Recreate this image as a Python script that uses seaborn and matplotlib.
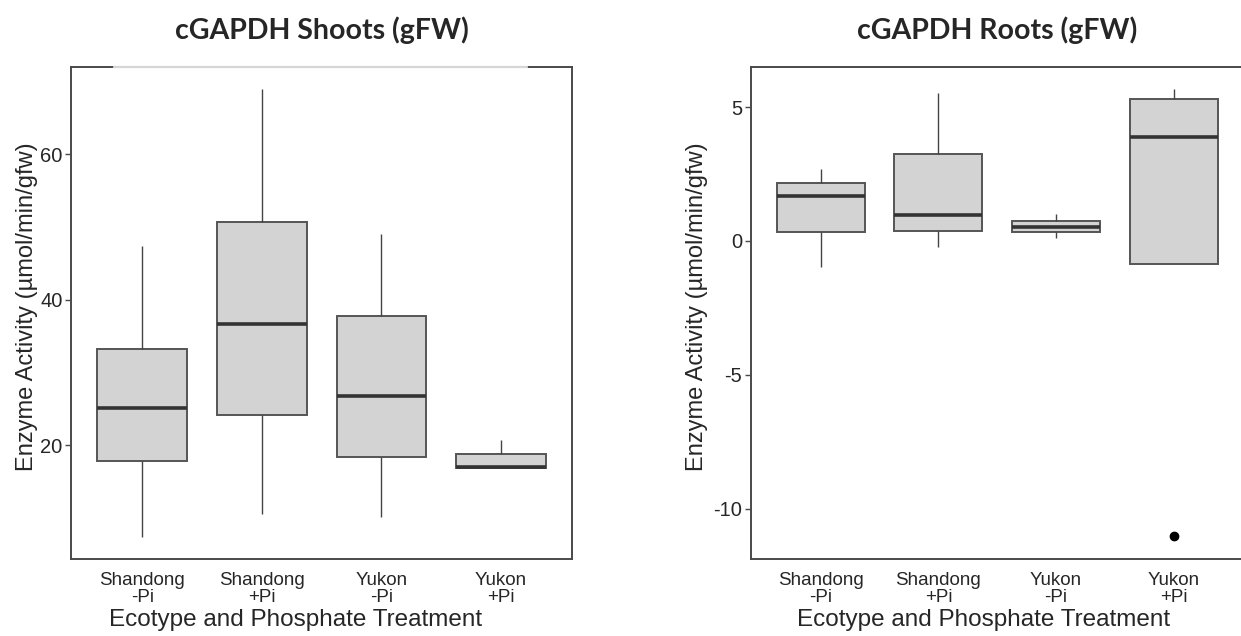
import matplotlib
matplotlib.use("Agg")
import matplotlib.pyplot as plt
import seaborn as sns
import pandas as pd

# ---------------- data ----------------
categories = ["Shandong\n-Pi", "Shandong\n+Pi", "Yukon\n-Pi", "Yukon\n+Pi"]

# Shoots (gFW): sample values per group
shoots_shandong_minus = [7.5, 17.9, 25.1, 33.3, 47.4]
shoots_shandong_plus = [10.6, 24.2, 36.7, 50.7, 69.0]
shoots_yukon_minus = [10.2, 18.4, 26.8, 37.8, 49.1]
shoots_yukon_plus = [16.9, 16.9, 17.0, 18.8, 20.8]

# Roots (gFW): sample values per group
roots_shandong_minus = [-0.98, 0.34, 1.69, 2.16, 2.69]
roots_shandong_plus = [-0.21, 0.37, 0.97, 3.24, 5.53]
roots_yukon_minus = [0.12, 0.32, 0.53, 0.76, 1.01]
roots_yukon_plus = [-11.0, -0.85, 3.87, 5.29, 5.68]

panel_titles = ["cGAPDH Shoots (gFW)", "cGAPDH Roots (gFW)"]
y_label = "Enzyme Activity (µmol/min/gfw)"
x_label = "Ecotype and Phosphate Treatment"
shoots_yticks = [20, 40, 60]
roots_yticks = [-10, -5, 0, 5]


def long_frame(groups):
    rows = []
    for cat, vals in zip(categories, groups):
        for v in vals:
            rows.append({"group": cat, "value": v})
    return pd.DataFrame(rows)


shoots_df = long_frame([shoots_shandong_minus, shoots_shandong_plus,
                        shoots_yukon_minus, shoots_yukon_plus])
roots_df = long_frame([roots_shandong_minus, roots_shandong_plus,
                       roots_yukon_minus, roots_yukon_plus])

# ---------------- style ----------------
sns.set_style("white")
plt.rcParams["font.family"] = ["Liberation Sans", "DejaVu Sans"]
plt.rcParams["axes.unicode_minus"] = False

fig = plt.figure(figsize=(12.41, 6.36), dpi=100)
ax1 = fig.add_axes([0.0572, 0.1206, 0.4037, 0.7743])
ax2 = fig.add_axes([0.6049, 0.1206, 0.3971, 0.7743])

spine_col = "#4a4a4a"

for ax, df, title, yticks, ylim, lab_x, ylab_x in [
    (ax1, shoots_df, panel_titles[0], shoots_yticks, (4.37, 72.0), 0.448, -0.066),
    (ax2, roots_df, panel_titles[1], roots_yticks, (-11.88, 6.5), 0.473, -0.087),
]:
    sns.boxplot(
        data=df, x="group", y="value", order=categories, ax=ax,
        color="#D3D3D3", saturation=1, width=0.75,
        linecolor="#555555", linewidth=1.4, showcaps=False, fliersize=6,
        whiskerprops=dict(color="#444444", linewidth=1.0),
        medianprops=dict(color="#333333", linewidth=2.6),
        flierprops=dict(marker="o", markerfacecolor="black",
                        markeredgecolor="black", markersize=6),
    )
    ax.set_xlim(-0.596, 3.594)
    ax.set_ylim(*ylim)
    ax.set_yticks(yticks)
    ax.set_yticklabels([str(t) for t in yticks])
    ax.tick_params(axis="y", length=4, width=1.0, color=spine_col,
                   labelsize=14.5, pad=2, left=True)
    ax.tick_params(axis="x", length=0, labelsize=13.5, pad=9)
    for lbl in ax.get_xticklabels():
        lbl.set_linespacing(1.0)
    for sp in ax.spines.values():
        sp.set_visible(True)
        sp.set_color(spine_col)
        sp.set_linewidth(1.4)
    ax.set_xlabel(x_label, fontsize=17.5)
    ax.xaxis.set_label_coords(lab_x, -0.1)
    ax.set_ylabel(y_label, fontsize=17)
    ax.yaxis.set_label_coords(ylab_x, 0.512)
    ax.set_title(title, fontsize=20.5, fontweight="bold",
                 family=["Lato", "DejaVu Sans"], pad=20)
    ax.grid(False)

# light section of the top frame on the left panel
ax1.plot([0.086, 0.91], [1, 1], transform=ax1.transAxes, color="#d6d6d6",
         linewidth=1.6, clip_on=False, zorder=5)

fig.savefig("out.png", dpi=100, facecolor="white")
